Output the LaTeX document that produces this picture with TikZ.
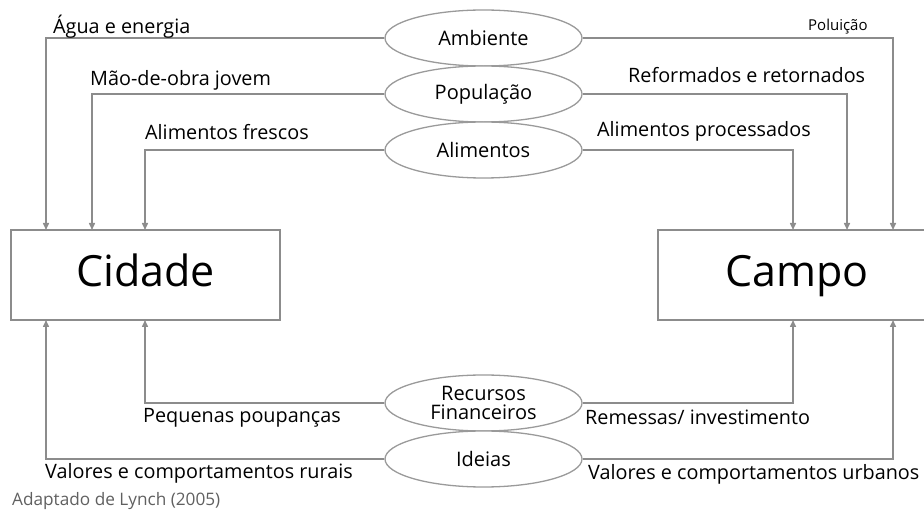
\documentclass[tikz,border=0pt]{standalone}
\usepackage{fontspec}
\setmainfont{Open Sans}
\usetikzlibrary{arrows.meta,shapes.geometric}
\definecolor{linegray}{HTML}{8C8C8C}
\definecolor{ellgray}{HTML}{9A9A9A}
\definecolor{notegray}{HTML}{606060}
\tikzset{
  conn/.style={draw=linegray,line width=1.5pt,-{Triangle[length=7pt,width=6pt]}},
  flow/.style={ellipse,draw=ellgray,line width=1.3pt,fill=white,minimum width=197pt,minimum height=56pt,inner sep=0pt,font=\fontsize{20}{19}\selectfont,align=center},
  place/.style={rectangle,draw=linegray,line width=1.5pt,minimum height=90pt,inner sep=0pt,text height=32pt,text depth=9pt,font=\fontsize{43}{46}\selectfont},
  lbl/.style={anchor=west,inner sep=0pt,font=\fontsize{19.8}{22}\selectfont},
}
\begin{document}
\begin{tikzpicture}[x=1pt,y=-1pt]
\useasboundingbox (0,0) rectangle (924,510);
% boxes
\node[place,minimum width=269pt] (cid) at (145.5,275) {Cidade};
\node[place,minimum width=278pt] (cam) at (797,275) {Campo};
% ellipses
\node[flow] (amb) at (483.5,38) {Ambiente};
\node[flow] (pop) at (483.5,94) {População};
\node[flow] (ali) at (483.5,150) {Alimentos};
\node[flow] (rec) at (483.5,403) {Recursos\\Financeiros};
\node[flow] (ide) at (483.5,459) {Ideias};
% end coordinates
\coordinate (c1) at (46,230);
\coordinate (c2) at (92,230);
\coordinate (c3) at (145,230);
\coordinate (k1) at (793,230);
\coordinate (k2) at (847,230);
\coordinate (k3) at (893,230);
\coordinate (c4) at (145,320);
\coordinate (c5) at (46,320);
\coordinate (k4) at (793,320);
\coordinate (k5) at (893,320);
% connectors
\draw[conn] (amb.west) -| (c1);
\draw[conn] (pop.west) -| (c2);
\draw[conn] (ali.west) -| (c3);
\draw[conn] (ali.east) -| (k1);
\draw[conn] (pop.east) -| (k2);
\draw[conn] (amb.east) -| (k3);
\draw[conn] (rec.west) -| (c4);
\draw[conn] (ide.west) -| (c5);
\draw[conn] (rec.east) -| (k4);
\draw[conn] (ide.east) -| (k5);
% labels
\node[lbl] (t1) at (53,27) {Água e energia};
\node[lbl] (t2) at (90,80) {Mão-de-obra jovem};
\node[lbl] (t3) at (145,132) {Alimentos frescos};
\node[lbl,font=\fontsize{15}{16}\selectfont] (t4) at (808,27) {Poluição};
\node[lbl] (t5) at (628,75) {Reformados e retornados};
\node[lbl] (t6) at (597,131) {Alimentos processados};
\node[lbl] (t7) at (143,418) {Pequenas poupanças};
\node[lbl] (t8) at (585,417) {Remessas/ investimento};
\node[lbl] (t9) at (45,473) {Valores e comportamentos rurais};
\node[lbl] (t10) at (588,474) {Valores e comportamentos urbanos};
\node[lbl,text=notegray,font=\fontsize{17.2}{18}\selectfont] (t11) at (12,501) {Adaptado de Lynch (2005)};
\end{tikzpicture}
\end{document}
